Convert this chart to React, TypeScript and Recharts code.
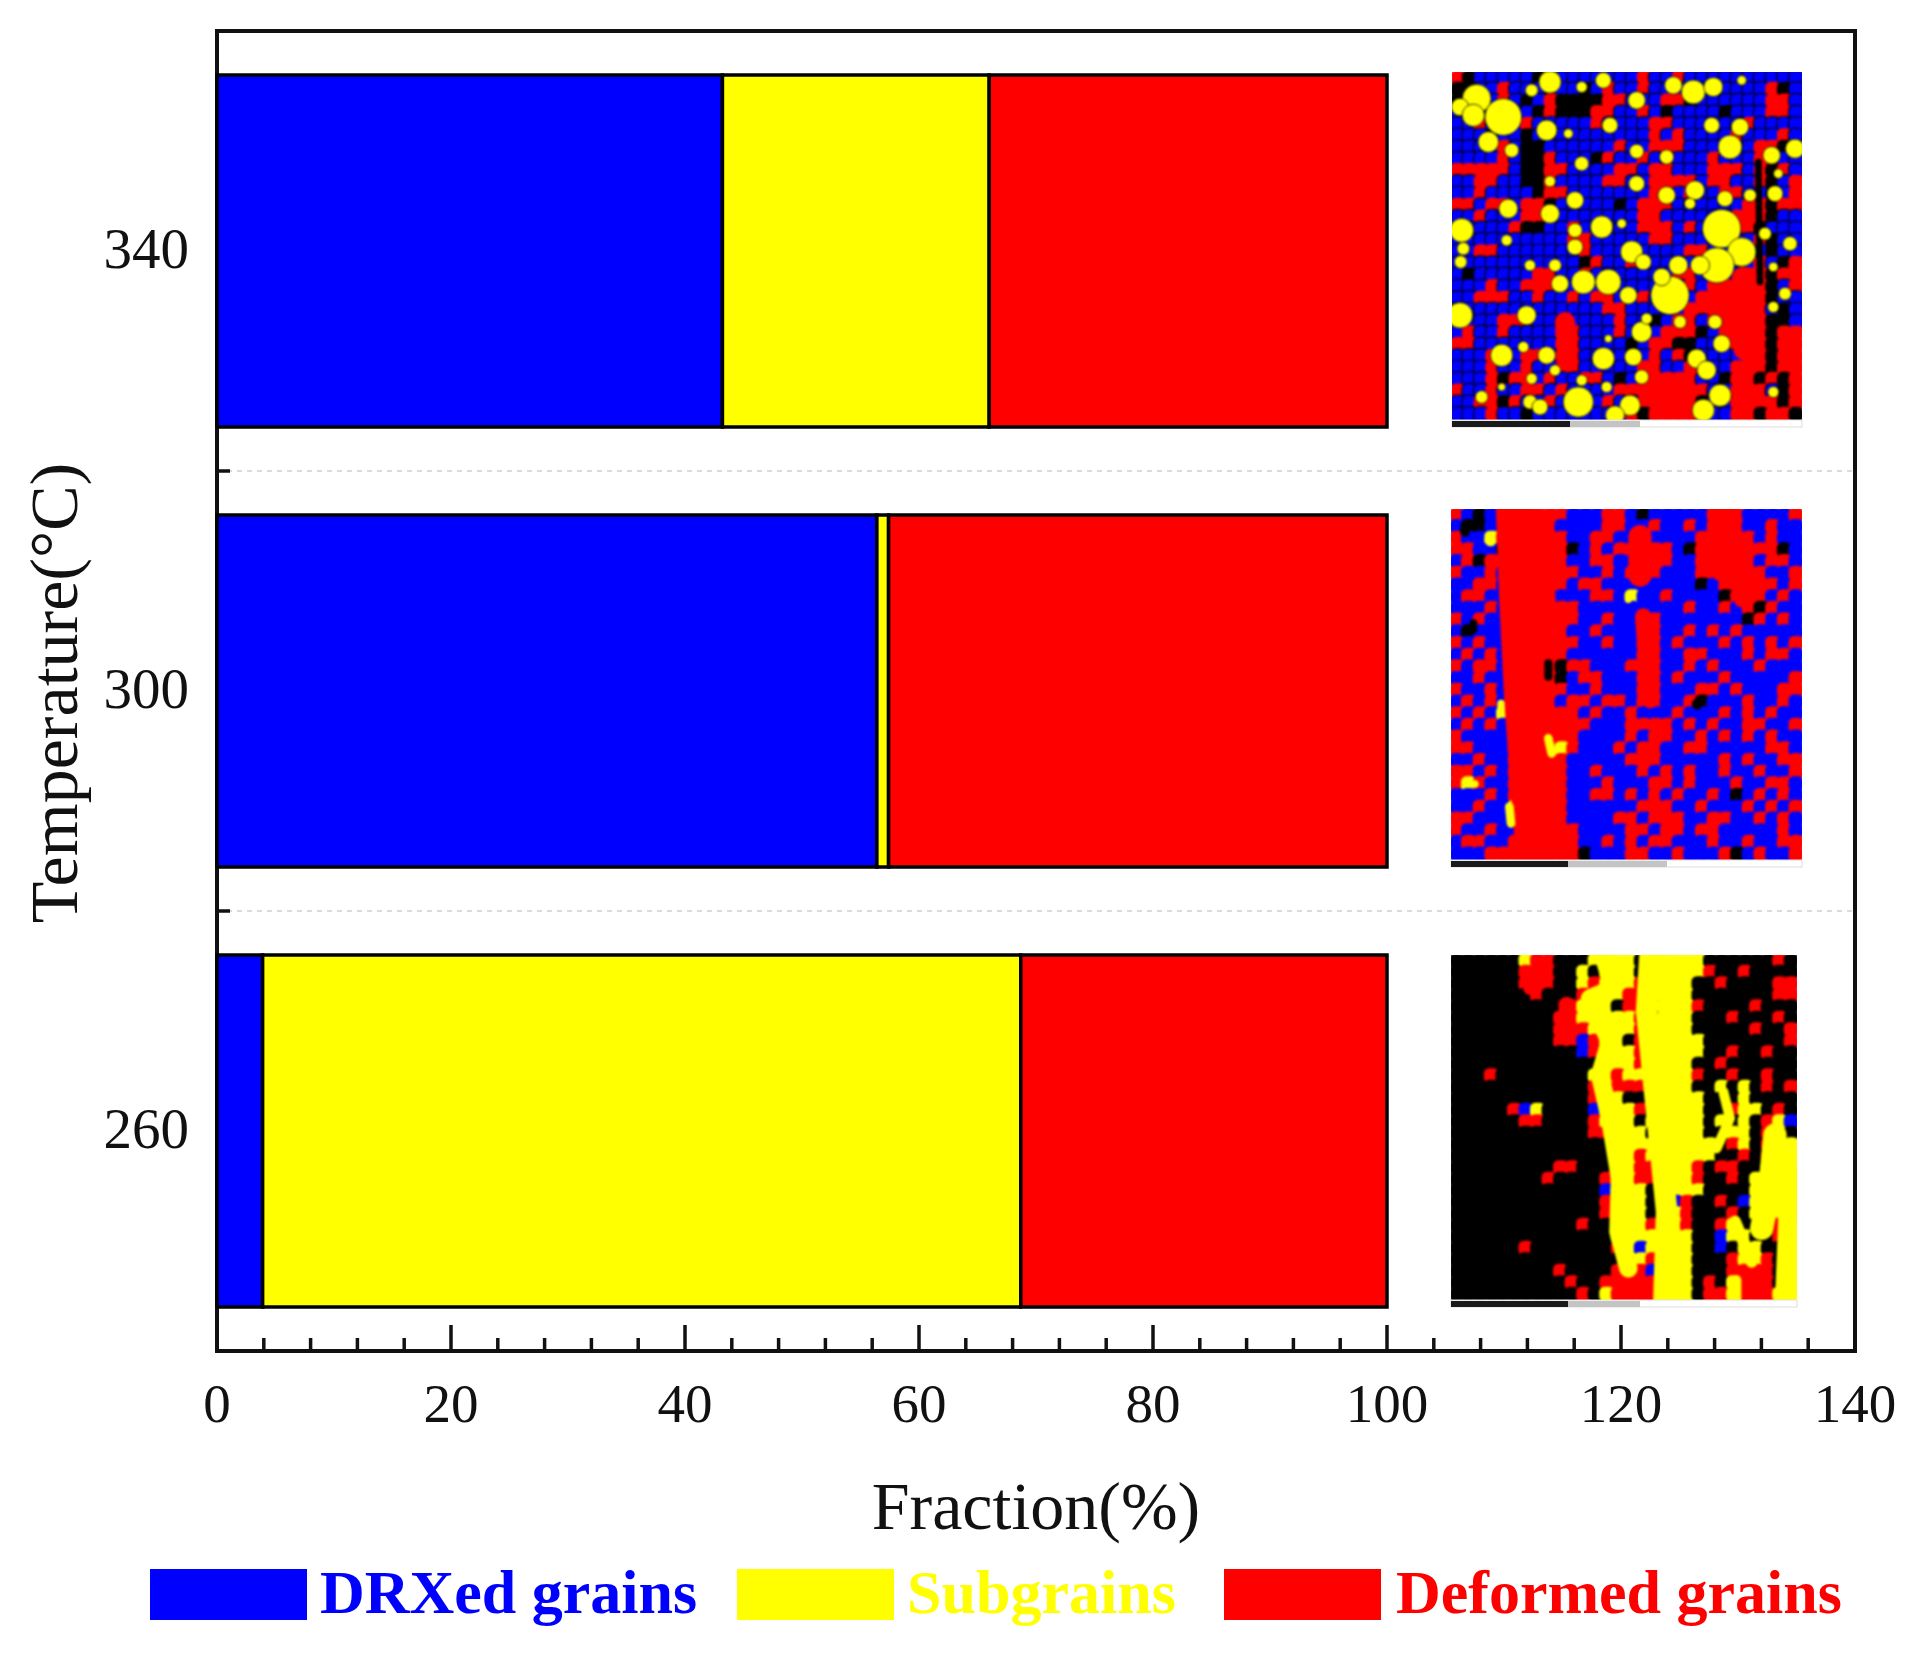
import React from 'react';
import { BarChart, Bar, XAxis, YAxis } from 'recharts';

const temperatures = ['340', '300', '260'];
const drxedValues = [43.2, 56.4, 3.9];
const subgrainValues = [22.8, 1.0, 64.8];
const deformedValues = [34.0, 42.6, 31.3];
const xTicks = [0, 4, 8, 12, 16, 20, 24, 28, 32, 36, 40, 44, 48, 52, 56, 60, 64, 68, 72, 76, 80, 84, 88, 92, 96, 100, 104, 108, 112, 116, 120, 124, 128, 132, 136, 140];

const seriesNames = ['DRXed grains', 'Subgrains', 'Deformed grains'];

// coarse hand-read mosaics of the three grain maps (B blue, Y yellow, R red, K black)
const map340 = [
  'RKBYBBBKBYYBBYBBRBBRBBBBBBBBBB',
  'KKYYRBBYKYYKBRBBRBBYBYYBYYBRKB',
  'KYYYRYKBRKKKKRRYYBRRKYYBBBBRRB',
  'YYKYYYBKRKKKRRBBRBKBBBBKBBBRRB',
  'YYRYYYRBBBBBRYYBBRRBBBBBBRYYBB',
  'BBBKYYKYYBBYBBBBBRBRBBBYRBYYRB',
  'BBYYRYKKYBBBBBRBYRRRBBBBYYRRKY',
  'BBYYRYKKRBBBKRBYRBYBBBRBYYRRYY',
  'RRRRRYKKRRYYBBRRBRRYBBRRRBRKRY',
  'BBRRBBKKRBYBBRRBYRRRRBRRBBRKYR',
  'BBRBBBBKRRBBBBBBYRRYRYBRRYYKYR',
  'RRBRRBRRKYYYBBKBRRRBBYYBBRRKRR',
  'BBRBYYRRRYYBBBBBRRBBBYBBRRRKBB',
  'YYBBBRKKYYRBYYYBRRRBRYYYRRKYBB',
  'YYBBBBBBBYRRBBYBBRRBBYYYYBRKBB',
  'BYRRBBBBBYYRBBBYYBBBRRYYBYYKYY',
  'YYBBBBBBBYYKRBBRYBBYBYYYYBRYKR',
  'YKBBBBBRRYYRBBBBBBYRRYYYYRRKRR',
  'BBBRBBRRRYYYBYYBBYYYRBRRRRRKYR',
  'BBRRRBBRBBRBRRBYRYYYBRRRRRRKYB',
  'YYBBBBYYBBBBBRRBBYYYRRRRRRRYKB',
  'YYBBRRRBBBBBBBRBYKYRRYRRRRRKKB',
  'BRBBRBBBBRRBBBRBYYRRRKYRRRRKRR',
  'RRBBBBBBYRRBBBYKYRRKKYYRRRRKRR',
  'BBBRYYRRYRRYYBYYBRYRKYYYBRRKRR',
  'BBBRYYRBYRRYYBBYRRYYRRYYRRRKRR',
  'BBBRKRRYRBBRRBKYRRRRRBYKRRKRKR',
  'RBYRBBRRBRYYBBRRRRRRRRYYRRRYKR',
  'BBRRKRYYRBYYBRYYRRRRRKYYRRRRKR',
  'BBBRBBKYBBYYBYYRKRRRRYYBRRKRRK',
];
const map300 = [
  'RBKBBRYRRRBBBRRBKBBBBBRRRBBBBR',
  'BKKBBRRRRBBBBRRBBRBBRBRRRBBRBB',
  'RBBYRBRRRRBBRRBBRBBBBRRRRRBRBB',
  'RRBBKBRRRRKBRBRRBRRBKRRRRRRRKB',
  'BRKRRBRRRRBBRRBBRRRBBRRRRRBRRB',
  'RBBRBRRRRRRBBRBRRRBBBRRRRRRBBR',
  'BBRRBRRRRRBRRBBBBBBBBKBRRRRRBR',
  'BRRBBRRRRBBBRRBYBBRBBBBKRRRBRB',
  'BBBRBRRRRRRBBBBBBBBBRBBRBRKRBB',
  'RBRBBBRRRRRBBRBBRRBBBBBBBKRBRB',
  'BKBBBBRRRRBBRBBBRRBBRBRBRBBBBB',
  'RBRBBRRRRRRBBRBBRRBRBBBRBRBRBR',
  'BRBRBRRRRRBBBBBBRRBBRRBBBRBRRB',
  'RBRRBRRRRKRRBBBRRRBBRBRBBBRBBB',
  'BBRBBRRRRKBRRBBBRRBRBBBRBBBBBR',
  'RBBRBRRRRRBBRBBBRRBBBRRBRBBBRR',
  'BRBRBRRRRBRRBRRBRRBBRKBBBRBBRB',
  'RBRBYRRRRRRBRBBRBBBRBBBRBRBRBB',
  'BRBRBRRRRRRRBBBRRRRBRBRBBRRBBR',
  'RBBBBBRRRRRBBBBRBRRBBRBRBRBRBB',
  'RRBBBRRRRYRBBBRBRRBBRRBBBBBRRB',
  'BBRBBRRRRRBBBBBRRRBBBBBRBRBBRR',
  'RRBRBRRRRRBBRBBBRBRBRBBRBBRBBR',
  'RYRBBRRRRRBBBRBBBRRBRBBBRBBRRB',
  'BBBRBRRRRRBBRRBRBRBRBBRBKBRBRB',
  'BBRBBYRRRRBBBBBBRRRBBRBBBRBRBR',
  'RRBBBYRRRRBBBBRRBRRRBBRRBBRBRB',
  'RBBRBBRRRRRBBBBRRBRRBRRBBBBBRB',
  'BRRBBRRRRRRBBRBRBRRBBBRBBRBBRR',
  'BBBRRRRRRRRKBBBRRBBRBBBRKBRBBR',
];
const map260 = [
  'KKKKKKYRRKKKYYYYKRYYYYKKKKKKRK',
  'KKKKKKRRRKKYKYYYKKYYYYRKKRKKKK',
  'KKKKKKRRRKKYRYYYRRYYYKKRKKKKRR',
  'KKKKKKKRKKKRYYYRRRYYYKKKKKKKRR',
  'KKKKKKKKKKRYYYKRRKYYYRKKKKRKKK',
  'KKKKKKKKKRRYYYYYRKYYYKKKRKKKRK',
  'KKKKKKKKKRRRYYYYRYYYYKKKKKRKKR',
  'KKKKKKKKKRRBRYYKRRYYYYKKKKKKKR',
  'KKKKKKKKKKKBRRYYRBYYYYKKRKKRKK',
  'KKKKKKKKKKKKKYYYRRYYYKKRKKKKKK',
  'KKKRKKKKKKKKYYRYYRYYYRKKRKKRKK',
  'KKKKKKKKKKKKRYRRRKYYYKKYKYKRKR',
  'KKKKKKKKKKKKRYYKKRYYYYKKKYKKKK',
  'KKKKKRBYKKKKBYYYRKYYYYKKRYYKRK',
  'KKKKKKRRKKKKRYYYKYYYYYKYKYKRYB',
  'KKKKKKKKKKKKRRYYYKYYYYKKYYKRYK',
  'KKKKKKKKKKKKKKYYYYYYYYYKRYKRYY',
  'KKKKKKKKKKKKKKYYRYYYYYYKKRKRYY',
  'KKKKKKKKKRRKKKYYRRYYYRKRRKKYYY',
  'KKKKKKKKRKKKKRYYRRYYYRKKRKYYYY',
  'KKKKKKKKKKKKKBYYYKYYYYKKKKYYYY',
  'KKKKKKKKKKKKKRYYYKYBRKKRKBYYYK',
  'KKKKKKKKKKKKKRYYYKYYRKKKRKYYYR',
  'KKKKKKKKKKKRKKYYYRYYRKKRYKKYRY',
  'KKKKKKKKKKKKKKYYYYRYYKKBYYKKRY',
  'KKKKKKRKKKKKKKRYBYRYYKKBKYYKKY',
  'KKKKKKKKKKKKKKKYYRKYYKKKRYYRKY',
  'KKKKKKKKKRKKKKRRRBKYYKKKRRRRKY',
  'KKKKKKKKKKRKKRRRRRKYYKRKYRRRKY',
  'KKKKKKKKKKKRKYRRRRKYYKRRYRRRYY',
];

// round yellow grains: centre x, centre y, radius (enlarged crop pixels)
const grains340 = [
  [110, 110, 36], [190, 165, 46], [60, 135, 22], [100, 160, 28], [145, 240, 26], [215, 265, 18], [320, 205, 26], [275, 85, 16], [330, 60, 28],
  [425, 75, 14], [490, 55, 20], [590, 115, 22], [700, 70, 22], [760, 90, 30], [820, 75, 24], [905, 55, 12], [510, 190, 20], [385, 215, 12],
  [870, 255, 30], [900, 195, 22], [815, 190, 20], [995, 280, 22], [1065, 260, 24], [680, 285, 18], [590, 268, 18], [425, 305, 18], [1015, 335, 12],
  [590, 365, 20], [680, 400, 22], [765, 385, 24], [855, 410, 20], [930, 400, 16], [1005, 395, 20], [330, 358, 14], [405, 415, 22], [205, 440, 24],
  [330, 455, 24], [65, 505, 30], [485, 495, 28], [405, 505, 18], [545, 485, 12], [750, 425, 14], [975, 515, 16], [1050, 545, 18], [845, 500, 48],
  [905, 570, 36], [830, 610, 44], [780, 610, 24], [575, 570, 28], [610, 600, 20], [405, 555, 20], [200, 535, 14], [70, 560, 16], [62, 600, 16],
  [270, 610, 14], [345, 610, 16], [360, 665, 22], [430, 660, 30], [505, 660, 32], [565, 700, 22], [690, 700, 48], [715, 610, 24], [665, 645, 22],
  [720, 780, 16], [1000, 615, 12], [1035, 695, 16], [1000, 735, 14], [60, 760, 32], [260, 760, 24], [605, 810, 26], [620, 770, 14], [490, 890, 28],
  [580, 885, 22], [505, 830, 10], [185, 880, 28], [250, 855, 14], [320, 880, 22], [345, 925, 14], [770, 890, 24], [800, 925, 24], [845, 845, 22],
  [825, 780, 18], [605, 945, 18], [415, 1020, 38], [425, 955, 14], [570, 1030, 26], [500, 975, 14], [270, 1020, 18], [300, 1035, 20], [275, 950, 14],
  [125, 1005, 16], [185, 975, 10], [525, 1060, 24], [790, 1045, 28], [840, 1000, 28], [1000, 990, 14],
];
// thicker streaks: width, then points (enlarged crop pixels)
const streaks340 = [
  { color: 'R', width: 70, points: [[910, 650], [915, 860]] },
  { color: 'R', width: 60, points: [[375, 780], [385, 900]] },
  { color: 'K', width: 20, points: [[955, 300], [960, 660]] },
];
const streaks300 = [
  { color: 'R', width: 115, points: [[225, 30], [235, 300], [250, 600], [285, 1075]] },
  { color: 'R', width: 40, points: [[310, 80], [335, 400]] },
  { color: 'R', width: 70, points: [[600, 110], [600, 225]] },
  { color: 'R', width: 90, points: [[850, 30], [850, 200]] },
  { color: 'R', width: 45, points: [[900, 150], [905, 300]] },
  { color: 'R', width: 50, points: [[610, 350], [630, 600]] },
  { color: 'Y', width: 34, points: [[150, 120], [152, 122]] },
  { color: 'Y', width: 22, points: [[565, 285], [565, 298]] },
  { color: 'Y', width: 22, points: [[183, 610], [183, 640]] },
  { color: 'Y', width: 26, points: [[325, 715], [335, 760]] },
  { color: 'Y', width: 22, points: [[85, 852], [105, 852]] },
  { color: 'Y', width: 26, points: [[208, 920], [213, 970]] },
  { color: 'K', width: 30, points: [[75, 85], [75, 95]] },
  { color: 'K', width: 24, points: [[100, 370], [100, 390]] },
  { color: 'K', width: 24, points: [[325, 490], [325, 530]] },
  { color: 'K', width: 30, points: [[770, 612], [772, 614]] },
];
const streaks260 = [
  { color: 'Y', width: 55, points: [[490, 30], [520, 130], [450, 160], [510, 290], [480, 390], [510, 520], [540, 700], [535, 860], [565, 970]] },
  { color: 'Y', width: 65, points: [[630, 30], [620, 200], [650, 500], [680, 800], [672, 1065]] },
  { color: 'Y', width: 30, points: [[690, 40], [670, 180]] },
  { color: 'Y', width: 30, points: [[850, 440], [870, 520], [830, 610]] },
  { color: 'Y', width: 70, points: [[1005, 570], [990, 720], [965, 850]] },
  { color: 'Y', width: 60, points: [[1050, 680], [1035, 1065]] },
  { color: 'Y', width: 36, points: [[885, 830], [935, 950]] },
  { color: 'Y', width: 28, points: [[890, 1005], [890, 1065]] },
  { color: 'R', width: 50, points: [[380, 180], [385, 260]] },
  { color: 'R', width: 40, points: [[280, 85], [270, 130]] },
];

const WIDTH = 1914;
const HEIGHT = 1655;
const PLOT = { left: 217, right: 1855, top: 31, bottom: 1351 };
const SERIF = '"Liberation Serif", serif';
const INK = '#111';
const COLORS = ['#0000ff', '#ffff00', '#ff0000'];
const CELL_COLORS: Record<string, string> = { B: '#0000ff', Y: '#ffff00', R: '#ff0000', K: '#000' };

const chartData = temperatures.map((t, i) => ({
  temperature: t,
  drxed: drxedValues[i],
  subgrains: subgrainValues[i],
  deformed: deformedValues[i],
}));

const insets = [
  { id: 'm340', rows: map340, grains: grains340, streaks: streaks340, outline: true, cropY: 62, x: 1452, y: 72, w: 350, h: 348, barEnd: 1570, noteEnd: 1640 },
  { id: 'm300', rows: map300, grains: [], streaks: streaks300, outline: false, cropY: 500, x: 1451, y: 509, w: 351, h: 351, barEnd: 1568, noteEnd: 1667 },
  { id: 'm260', rows: map260, grains: [], streaks: streaks260, outline: false, cropY: 945, x: 1451, y: 955, w: 346, h: 345, barEnd: 1568, noteEnd: 1640 },
];

const legendItems = [
  { swatch: 150, text: 320 },
  { swatch: 737, text: 907 },
  { swatch: 1224, text: 1396 },
];

const XTick = (props: any) => {
  const { x, y, payload } = props;
  const major = payload.value % 20 === 0;
  return (
    <g>
      <line x1={x} x2={x} y1={y} y2={y - (major ? 26 : 13)} stroke={INK} strokeWidth={3.5} />
      {major && (
        <text x={x} y={y + 71} textAnchor="middle" fontFamily={SERIF} fontSize={55} fill={INK}>
          {payload.value}
        </text>
      )}
    </g>
  );
};

const YTick = (props: any) => {
  const { y, payload, index } = props;
  const band = (PLOT.bottom - PLOT.top) / temperatures.length;
  const edge = y + band / 2;
  return (
    <g>
      <text x={189} y={y + 17} textAnchor="end" fontFamily={SERIF} fontSize={57} fill={INK}>
        {payload.value}
      </text>
      {index < temperatures.length - 1 && (
        <>
          <line x1={PLOT.left} x2={PLOT.right} y1={edge} y2={edge} stroke="#cfcfcf" strokeWidth={1.5} strokeDasharray="5 5" />
          <line x1={PLOT.left} x2={PLOT.left + 13} y1={edge} y2={edge} stroke={INK} strokeWidth={3.5} />
        </>
      )}
    </g>
  );
};

const GrainMap = ({ inset }: { inset: (typeof insets)[number] }) => {
  const cellW = inset.w / inset.rows[0].length;
  const cellH = inset.h / inset.rows.length;
  const barY = inset.y + inset.h;
  const sx = (v: number) => 1440 + v / 3;
  const sy = (v: number) => inset.cropY + v / 3;
  const hasGrains = inset.grains.length > 0;
  return (
    <g>
      <clipPath id={inset.id}>
        <rect x={inset.x} y={inset.y} width={inset.w} height={inset.h} />
      </clipPath>
      <g clipPath={`url(#${inset.id})`}>
        <g style={{ filter: 'blur(1.1px)' }}>
          <rect x={inset.x} y={inset.y} width={inset.w} height={inset.h} fill="#000" />
          {inset.rows.map((row, r) =>
            row.split('').map((c, i) => {
              const code = hasGrains && c === 'Y' ? 'B' : c;
              return (
                <rect
                  key={`${r}-${i}`}
                  x={inset.x + (i - 0.15) * cellW}
                  y={inset.y + (r - 0.15) * cellH}
                  width={cellW * 1.3}
                  height={cellH * 1.3}
                  rx={cellW * 0.45}
                  fill={CELL_COLORS[code]}
                  stroke={inset.outline && code === 'B' ? '#000' : 'none'}
                  strokeWidth={1.2}
                />
              );
            }),
          )}
          {inset.streaks.map((s, i) => (
            <polyline
              key={i}
              points={s.points.map(([px, py]) => `${sx(px)},${sy(py)}`).join(' ')}
              fill="none"
              stroke={CELL_COLORS[s.color]}
              strokeWidth={s.width / 3}
              strokeLinecap="round"
              strokeLinejoin="round"
            />
          ))}
          {inset.grains.map(([gx, gy, gr], i) => (
            <circle key={i} cx={sx(gx)} cy={sy(gy)} r={(gr * 1.2) / 3} fill="#ffff00" stroke="#000" strokeWidth={0.8} />
          ))}
        </g>
      </g>
      <rect x={inset.x} y={barY} width={inset.w} height={7} fill="#fff" stroke="#ddd" strokeWidth={1} />
      <rect x={inset.barEnd} y={barY + 1} width={inset.noteEnd - inset.barEnd} height={6} fill="#c4c4c4" />
      <rect x={inset.x} y={barY + 1} width={inset.barEnd - inset.x} height={6} fill="#1a1a1a" />
    </g>
  );
};

export default function App() {
  return (
    <div style={{ position: 'absolute', left: 0, top: 0, width: WIDTH, height: HEIGHT, background: '#fff', overflow: 'hidden' }}>
      <BarChart
        width={WIDTH}
        height={HEIGHT}
        data={chartData}
        layout="vertical"
        barCategoryGap="10%"
        margin={{ top: PLOT.top, right: WIDTH - PLOT.right, bottom: 0, left: 0 }}
      >
        <XAxis
          type="number"
          domain={[0, 140]}
          ticks={xTicks}
          interval={0}
          height={HEIGHT - PLOT.bottom}
          tickSize={0}
          tickMargin={0}
          tick={<XTick />}
          axisLine={false}
          label={{ value: 'Fraction(%)', position: 'insideBottom', offset: 126, fontFamily: SERIF, fontSize: 68, fill: INK }}
        />
        <YAxis
          type="category"
          dataKey="temperature"
          width={PLOT.left}
          tickSize={0}
          tickMargin={0}
          tick={<YTick />}
          axisLine={false}
          interval={0}
        />
        <Bar dataKey="drxed" stackId="a" fill={COLORS[0]} stroke="#000" strokeWidth={3.5} isAnimationActive={false} />
        <Bar dataKey="subgrains" stackId="a" fill={COLORS[1]} stroke="#000" strokeWidth={3.5} isAnimationActive={false} />
        <Bar dataKey="deformed" stackId="a" fill={COLORS[2]} stroke="#000" strokeWidth={3.5} isAnimationActive={false} />
        {insets.map((inset) => (
          <GrainMap key={inset.id} inset={inset} />
        ))}
        <rect x={PLOT.left} y={PLOT.top} width={PLOT.right - PLOT.left} height={PLOT.bottom - PLOT.top} fill="none" stroke={INK} strokeWidth={4} />
        <text x={0} y={0} transform="translate(77 693) rotate(-90)" textAnchor="middle" fontFamily={SERIF} fontSize={68} fill={INK}>
          Temperature(°C)
        </text>
        {seriesNames.map((name, i) => (
          <g key={name}>
            <rect x={legendItems[i].swatch} y={1569} width={157} height={51} fill={COLORS[i]} />
            <text x={legendItems[i].text} y={1613} fontFamily={SERIF} fontSize={62} fontWeight="bold" fill={COLORS[i]}>
              {name}
            </text>
          </g>
        ))}
      </BarChart>
    </div>
  );
}
